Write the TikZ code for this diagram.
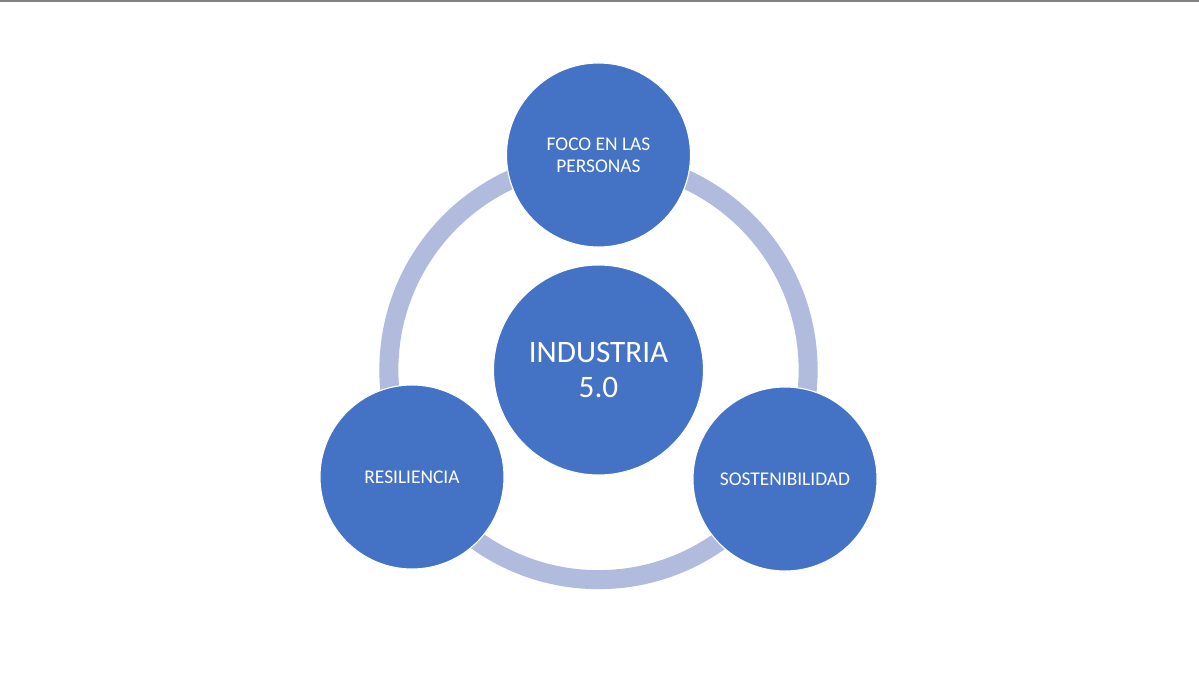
\documentclass[tikz,border=0pt]{standalone}
\usepackage{fontspec}
\setmainfont{Carlito}
\definecolor{pillarblue}{RGB}{68,114,196}
\definecolor{ringblue}{RGB}{176,187,221}
\tikzset{
  pillar/.style={circle, fill=pillarblue, draw=white, line width=0.8pt,
    minimum size=4.6cm, inner sep=0pt, text=white, align=center,
    font=\fontsize{13.8}{15.6}\selectfont},
  core/.style={pillar, minimum size=5.25cm, font=\fontsize{22.2}{24.4}\selectfont},
  ring/.style={draw=ringblue, line width=0.475cm}
}
\begin{document}
\begin{tikzpicture}[x=0.025cm, y=-0.025cm]
  \useasboundingbox[fill=white] (0,0) rectangle (1199,675);
  \draw[gray, line width=1.4pt] (0,1) -- (1199,1);
  \coordinate (mid) at (598.5,370);
  \draw[ring] (mid) circle[radius=5.24cm];
  \node[pillar] (focus) at (598.5,155) {FOCO EN LAS\\PERSONAS};
  \node[pillar] (resil) at (412,477) {RESILIENCIA};
  \node[pillar] (sosten) at (785,479) {SOSTENIBILIDAD};
  \node[core] (indus) at (mid) {INDUSTRIA\\5.0};
\end{tikzpicture}
\end{document}
